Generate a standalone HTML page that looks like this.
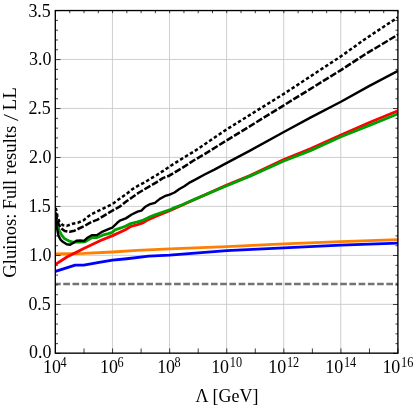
<!DOCTYPE html>
<html><head><meta charset="utf-8"><style>
html,body{margin:0;padding:0;background:#fff}
#w{position:relative;width:415px;height:408px;overflow:hidden;background:#fff}
text{font-family:"Liberation Serif",serif}
</style></head><body><div id="w">
<svg width="415" height="408" viewBox="0 0 415 408" style="position:absolute;left:0;top:0">
<rect width="415" height="408" fill="#fff"/>
<path d="M112.43,10.6 V353.45 M169.52,10.6 V353.45 M226.60,10.6 V353.45 M283.68,10.6 V353.45 M340.77,10.6 V353.45 M55.5,304.35 H398.0 M55.5,255.37 H398.0 M55.5,206.39 H398.0 M55.5,157.42 H398.0 M55.5,108.44 H398.0 M55.5,59.46 H398.0" stroke="#cacaca" stroke-width="0.9" fill="none"/>
<clipPath id="c"><rect x="55.5" y="10.6" width="342.5" height="342.84999999999997"/></clipPath>
<g clip-path="url(#c)" fill="none" stroke-linejoin="round">
<path d="M54.05,284.00 H398.0" stroke="#737373" stroke-width="2.3" stroke-dasharray="6.65,2.58"/>
<path d="M55.50,271.46 L75.19,265.09 L83.76,265.09 L100.60,262.15 L112.58,260.10 L126.85,258.73 L148.83,256.18 L169.67,255.20 L226.75,250.69 L283.83,247.95 L340.92,245.11 L398.00,243.05" stroke="#0000ff" stroke-width="2.85"/>
<path d="M55.50,254.02 L84.04,253.34 L112.58,251.97 L137.13,250.30 L169.67,248.93 L226.75,246.58 L283.83,243.93 L340.92,241.58 L398.00,239.62" stroke="#ff8000" stroke-width="2.85"/>
<path d="M55.50,264.31 L66.92,257.06 L83.76,248.44 L100.60,240.51 L112.58,235.61 L124.86,229.93 L130.71,226.50 L137.56,224.54 L143.41,222.58 L148.26,219.64 L155.00,216.70 L169.67,210.73 L226.75,184.96 L250.01,175.66 L283.83,159.59 L310.38,148.82 L340.92,135.10 L370.03,122.27 L398.00,110.81" stroke="#ff0000" stroke-width="2.85"/>
<path d="M55.50,214.35 L56.41,218.76 L57.90,226.60 L59.35,231.00 L61.81,235.41 L64.75,238.84 L68.66,240.80 L72.60,242.07 L81.39,242.07 L85.33,241.48 L91.75,237.66 L97.17,237.47 L102.59,235.22 L108.44,233.55 L112.30,232.28 L115.01,229.93 L120.86,227.97 L125.80,226.01 L130.71,223.56 L137.56,221.80 L143.41,220.13 L148.26,217.68 L155.00,214.74 L169.67,209.94 L174.52,207.59 L182.37,204.75 L190.02,201.32 L195.01,199.17 L225.01,186.53 L250.01,176.15 L283.83,160.99 L310.38,150.61 L340.92,136.72 L370.03,125.11 L398.00,113.75" stroke="#00a000" stroke-width="2.85"/>
<path d="M55.50,216.31 L55.93,219.74 L56.90,227.58 L58.35,235.41 L60.35,239.33 L62.78,241.78 L66.69,244.23 L70.11,244.72 L73.54,242.76 L76.48,240.80 L80.62,240.51 L83.93,241.00 L87.84,237.47 L91.75,235.31 L97.17,235.02 L102.59,231.59 L108.44,229.14 L112.30,227.67 L117.29,222.78 L119.89,220.62 L125.80,218.37 L131.71,214.55 L137.56,211.61 L141.41,210.63 L145.41,206.71 L149.32,204.46 L154.91,202.89 L159.82,198.87 L164.70,196.23 L169.61,194.56 L174.52,192.51 L179.43,189.08 L184.31,186.24 L190.02,182.32 L194.78,179.87 L204.60,174.48 L214.39,169.58 L225.01,163.90 L250.01,150.68 L283.83,132.07 L310.38,117.67 L340.92,101.70 L369.46,85.83 L398.00,70.84" stroke="#000" stroke-width="2.4"/>
<path d="M55.50,212.39 L56.36,216.31 L57.90,222.68 L60.84,228.06 L64.75,231.00 L69.66,231.69 L74.54,230.71 L79.45,228.26 L84.36,226.11 L89.26,223.17 L92.00,221.70 L97.63,219.64 L112.58,210.53 L120.00,206.42 L126.14,201.52 L132.28,197.31 L138.27,193.00 L144.55,189.27 L150.54,185.85 L156.82,182.12 L162.82,178.11 L169.67,175.46 L184.99,166.16 L194.78,159.79 L204.60,154.11 L226.75,140.39 L283.83,105.32 L340.92,70.06 L364.89,54.48 L398.00,34.60" stroke="#000" stroke-width="2.55" stroke-dasharray="6.8,1.9"/>
<path d="M55.50,207.98 L55.93,208.87 L57.38,215.82 L59.35,221.70 L62.78,225.13 L66.69,225.91 L72.60,223.75 L77.99,222.68 L83.39,220.42 L87.78,216.80 L92.00,213.86 L112.58,203.97 L120.00,198.48 L126.14,194.17 L132.28,189.27 L138.27,185.65 L144.55,182.51 L150.54,178.60 L156.82,174.97 L162.82,171.15 L169.67,166.45 L184.99,156.85 L194.78,150.97 L226.75,129.32 L283.83,93.86 L340.92,56.35 L364.89,39.20 L398.00,17.26" stroke="#000" stroke-width="2.5" stroke-dasharray="3.45,2.3"/>
</g>
<path d="M55.5,353.45 h5 M398.0,353.45 h-5 M55.5,343.65 h2.5 M398.0,343.65 h-2.5 M55.5,333.86 h2.5 M398.0,333.86 h-2.5 M55.5,324.06 h2.5 M398.0,324.06 h-2.5 M55.5,314.27 h2.5 M398.0,314.27 h-2.5 M55.5,304.47 h5 M398.0,304.47 h-5 M55.5,294.68 h2.5 M398.0,294.68 h-2.5 M55.5,284.88 h2.5 M398.0,284.88 h-2.5 M55.5,275.08 h2.5 M398.0,275.08 h-2.5 M55.5,265.29 h2.5 M398.0,265.29 h-2.5 M55.5,255.49 h5 M398.0,255.49 h-5 M55.5,245.70 h2.5 M398.0,245.70 h-2.5 M55.5,235.90 h2.5 M398.0,235.90 h-2.5 M55.5,226.11 h2.5 M398.0,226.11 h-2.5 M55.5,216.31 h2.5 M398.0,216.31 h-2.5 M55.5,206.51 h5 M398.0,206.51 h-5 M55.5,196.72 h2.5 M398.0,196.72 h-2.5 M55.5,186.92 h2.5 M398.0,186.92 h-2.5 M55.5,177.13 h2.5 M398.0,177.13 h-2.5 M55.5,167.33 h2.5 M398.0,167.33 h-2.5 M55.5,157.54 h5 M398.0,157.54 h-5 M55.5,147.74 h2.5 M398.0,147.74 h-2.5 M55.5,137.94 h2.5 M398.0,137.94 h-2.5 M55.5,128.15 h2.5 M398.0,128.15 h-2.5 M55.5,118.35 h2.5 M398.0,118.35 h-2.5 M55.5,108.56 h5 M398.0,108.56 h-5 M55.5,98.76 h2.5 M398.0,98.76 h-2.5 M55.5,88.97 h2.5 M398.0,88.97 h-2.5 M55.5,79.17 h2.5 M398.0,79.17 h-2.5 M55.5,69.37 h2.5 M398.0,69.37 h-2.5 M55.5,59.58 h5 M398.0,59.58 h-5 M55.5,49.78 h2.5 M398.0,49.78 h-2.5 M55.5,39.99 h2.5 M398.0,39.99 h-2.5 M55.5,30.19 h2.5 M398.0,30.19 h-2.5 M55.5,20.40 h2.5 M398.0,20.40 h-2.5 M55.5,10.60 h5 M398.0,10.60 h-5 M55.50,353.45 v-5 M84.04,353.45 v-5 M112.58,353.45 v-5 M141.12,353.45 v-5 M169.67,353.45 v-5 M198.21,353.45 v-5 M226.75,353.45 v-5 M255.29,353.45 v-5 M283.83,353.45 v-5 M312.38,353.45 v-5 M340.92,353.45 v-5 M369.46,353.45 v-5 M398.00,353.45 v-5 M55.50,10.6 v2.6 M69.77,10.6 v2.6 M84.04,10.6 v2.6 M98.31,10.6 v2.6 M112.58,10.6 v2.6 M126.85,10.6 v2.6 M141.12,10.6 v2.6 M155.40,10.6 v2.6 M169.67,10.6 v2.6 M183.94,10.6 v2.6 M198.21,10.6 v2.6 M212.48,10.6 v2.6 M226.75,10.6 v2.6 M241.02,10.6 v2.6 M255.29,10.6 v2.6 M269.56,10.6 v2.6 M283.83,10.6 v2.6 M298.10,10.6 v2.6 M312.38,10.6 v2.6 M326.65,10.6 v2.6 M340.92,10.6 v2.6 M355.19,10.6 v2.6 M369.46,10.6 v2.6 M383.73,10.6 v2.6 M398.00,10.6 v2.6" stroke="#1a1a1a" stroke-width="0.85" fill="none"/>
<rect x="55.3" y="10.55" width="342.59999999999997" height="342.59999999999997" fill="none" stroke="#000" stroke-width="1.35"/>
</svg>
<svg width="415" height="408" viewBox="0 0 415 408" style="position:absolute;left:0;top:0;will-change:transform" font-family="Liberation Serif, serif" fill="#000"><text transform="translate(51.50,358.46) scale(0.93,1)" font-size="19.3" text-anchor="end">0.0</text>
<text transform="translate(50.80,309.62) scale(0.93,1)" font-size="19.3" text-anchor="end">0.5</text>
<text transform="translate(51.50,260.78) scale(0.93,1)" font-size="19.3" text-anchor="end">1.0</text>
<text transform="translate(50.80,211.94) scale(0.93,1)" font-size="19.3" text-anchor="end">1.5</text>
<text transform="translate(51.50,163.11) scale(0.93,1)" font-size="19.3" text-anchor="end">2.0</text>
<text transform="translate(50.80,114.27) scale(0.93,1)" font-size="19.3" text-anchor="end">2.5</text>
<text transform="translate(51.50,65.43) scale(0.93,1)" font-size="19.3" text-anchor="end">3.0</text>
<text transform="translate(50.80,16.59) scale(0.93,1)" font-size="19.3" text-anchor="end">3.5</text>
<text transform="translate(42.96,373.40) scale(0.93,1)" font-size="19.3" text-anchor="start">10</text>
<text transform="translate(60.41,366.50) scale(0.84,1)" font-size="14.6" text-anchor="start">4</text>
<text transform="translate(100.04,373.40) scale(0.93,1)" font-size="19.3" text-anchor="start">10</text>
<text transform="translate(117.49,366.50) scale(0.84,1)" font-size="14.6" text-anchor="start">6</text>
<text transform="translate(157.13,373.40) scale(0.93,1)" font-size="19.3" text-anchor="start">10</text>
<text transform="translate(174.58,366.50) scale(0.84,1)" font-size="14.6" text-anchor="start">8</text>
<text transform="translate(211.14,373.40) scale(0.93,1)" font-size="19.3" text-anchor="start">10</text>
<text transform="translate(229.79,366.50) scale(0.84,1)" font-size="14.6" text-anchor="start">10</text>
<text transform="translate(268.23,373.40) scale(0.93,1)" font-size="19.3" text-anchor="start">10</text>
<text transform="translate(286.88,366.50) scale(0.84,1)" font-size="14.6" text-anchor="start">12</text>
<text transform="translate(325.31,373.40) scale(0.93,1)" font-size="19.3" text-anchor="start">10</text>
<text transform="translate(343.96,366.50) scale(0.84,1)" font-size="14.6" text-anchor="start">14</text>
<text transform="translate(382.39,373.40) scale(0.93,1)" font-size="19.3" text-anchor="start">10</text>
<text transform="translate(401.04,366.50) scale(0.84,1)" font-size="14.6" text-anchor="start">16</text>
<text transform="translate(227.00,401.60) scale(0.93,1)" font-size="19.3" text-anchor="middle">&#923; [GeV]</text>
<text transform="translate(16.20,277.70) rotate(-90) scale(1.023,1)" font-size="18.2" text-anchor="start">Gluinos:</text>
<text transform="translate(16.20,209.15) rotate(-90) scale(0.999,1)" font-size="18.2" text-anchor="start">Full</text>
<text transform="translate(16.20,174.40) rotate(-90) scale(1.026,1)" font-size="18.2" text-anchor="start">results</text>
<text transform="translate(16.20,110.40) rotate(-90) scale(1.043,1)" font-size="18.2" text-anchor="start">LL</text>
<path d="M18.2,120.5 L3.9,114.6" stroke="#000" stroke-width="1.0" fill="none"/></svg>
</div></body></html>
